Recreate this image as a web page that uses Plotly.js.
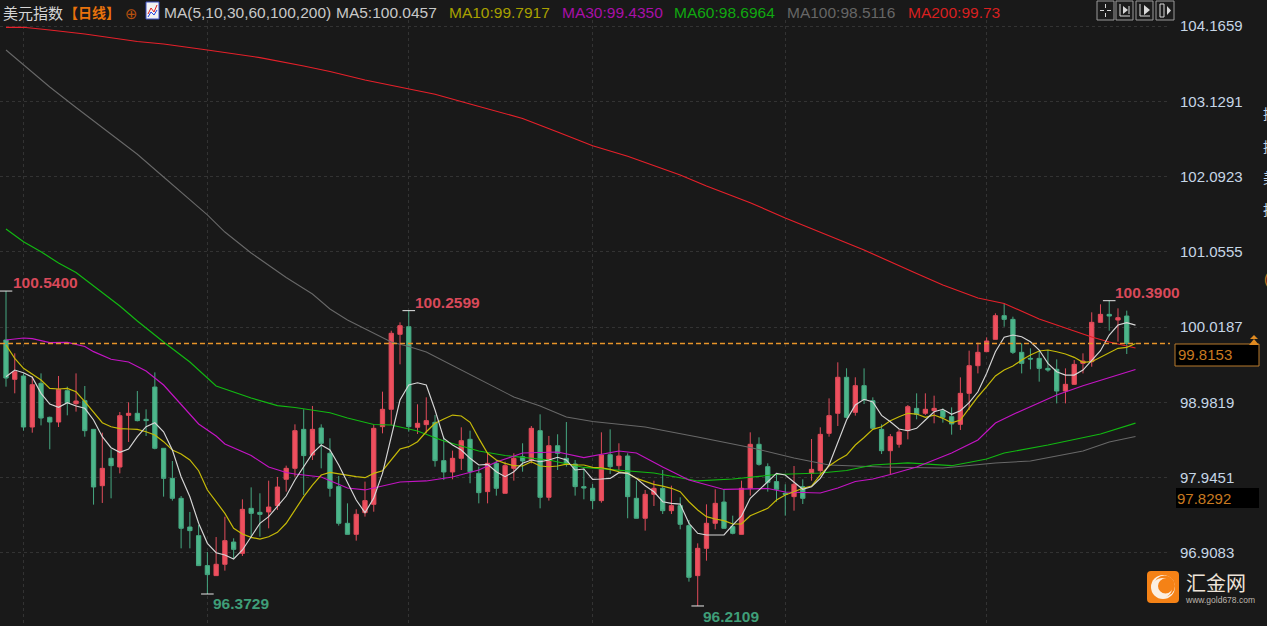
<!DOCTYPE html>
<html><head><meta charset="utf-8">
<script src="https://cdn.plot.ly/plotly-3.0.1.min.js"></script>
<style>html,body{margin:0;padding:0;background:#191919;overflow:hidden}#c{width:1267px;height:626px}</style>
</head><body><div id="c"></div>
<script>
const opens=[99.841,99.299,99.345,98.642,99.244,98.776,98.711,99.143,98.964,99.005,
98.610,97.834,98.211,98.091,98.803,98.831,98.748,99.193,98.349,97.935,
97.660,97.265,97.146,96.733,96.595,96.751,97.058,96.902,97.522,97.467,
97.472,97.559,97.922,98.073,98.610,98.257,98.629,98.280,97.821,97.316,
97.164,97.463,97.577,98.647,98.886,99.919,100.024,98.638,98.675,98.707,
98.179,98.023,98.211,98.473,98.004,97.752,98.142,97.729,98.073,98.234,
98.188,98.592,97.674,98.385,98.211,98.133,97.821,97.798,97.628,98.261,
98.110,98.243,97.660,97.385,97.715,97.798,97.490,97.559,97.284,96.595,
96.971,97.316,97.609,97.270,97.164,97.798,98.404,98.096,97.890,97.729,
97.683,97.821,98.004,98.041,98.555,98.831,99.327,98.844,99.212,99.005,
98.610,98.316,98.404,98.592,98.899,98.831,98.867,98.867,98.785,98.679,
99.106,99.487,99.680,99.850,100.176,100.125,99.671,99.588,99.588,99.450,
99.437,99.138,99.230,99.519,99.542,100.084,100.194,100.116,100.171];
const highs=[100.515,99.657,99.381,99.336,99.381,98.785,99.345,99.198,99.381,99.207,
98.615,98.564,98.335,98.849,98.982,99.138,98.886,99.395,98.353,98.174,
97.692,97.472,97.293,96.921,97.127,97.407,97.109,97.646,97.811,97.729,
97.903,97.954,98.110,98.679,98.886,98.932,98.679,98.487,97.968,97.591,
97.509,97.890,98.670,99.129,99.969,100.084,100.245,98.955,99.051,98.808,
98.509,98.317,98.638,98.592,98.096,98.280,98.188,98.165,98.280,98.418,
98.656,98.817,98.519,98.542,98.711,98.188,98.073,97.857,98.569,98.610,
98.418,98.280,97.903,97.775,97.903,98.050,97.834,97.674,97.362,97.040,
97.577,97.784,97.784,97.421,97.903,98.569,98.500,98.142,98.004,97.853,
98.105,97.922,98.477,98.638,99.037,99.533,99.451,99.327,99.450,99.051,
98.679,98.546,98.610,98.945,99.106,99.106,99.074,98.899,98.913,99.326,
99.694,99.804,99.877,100.208,100.346,100.162,99.795,99.726,99.694,99.703,
99.574,99.450,99.565,99.657,100.222,100.332,100.382,100.277,100.245];
const lows=[99.198,99.106,98.592,98.564,98.665,98.335,98.642,98.803,98.854,98.509,
97.573,97.596,97.660,98.004,98.436,98.720,98.518,98.335,97.683,97.628,
96.971,96.971,96.733,96.342,96.595,96.664,96.834,96.866,97.109,97.132,
97.247,97.499,97.752,97.958,97.706,98.188,98.073,97.683,97.284,97.164,
97.077,97.408,97.476,98.555,98.670,99.506,98.578,98.546,98.555,98.096,
97.913,97.922,98.050,97.867,97.591,97.591,97.697,97.729,97.903,98.027,
98.142,97.522,97.628,98.050,98.096,97.697,97.646,97.509,97.600,97.995,
98.050,97.385,97.385,97.215,97.554,97.444,97.444,97.233,96.512,96.177,
96.801,97.233,97.247,97.164,97.164,97.697,98.110,97.752,97.614,97.421,
97.490,97.582,97.903,97.995,98.509,98.656,98.762,98.799,98.959,98.624,
98.270,97.990,98.358,98.472,98.748,98.808,98.693,98.702,98.537,98.601,
98.876,99.381,99.680,99.850,100.024,99.648,99.381,99.437,99.267,99.404,
98.968,98.968,99.221,99.381,99.473,100.084,99.969,99.818,99.648];
const closes=[99.317,99.404,98.642,99.225,98.766,98.711,99.161,98.977,99.000,98.592,
97.816,98.073,98.110,98.798,98.831,98.730,98.730,98.349,97.935,97.660,
97.247,97.215,96.733,96.609,96.751,97.077,96.957,97.508,97.453,97.439,
97.540,97.816,98.073,98.592,98.248,98.610,98.418,97.798,97.316,97.164,
97.440,97.628,98.624,98.886,99.933,100.038,98.647,98.693,98.730,98.179,
98.023,98.211,98.454,98.027,97.738,98.142,97.798,98.110,98.211,98.174,
98.624,97.674,98.385,98.280,98.133,97.821,97.802,97.628,98.257,98.096,
98.243,97.683,97.385,97.715,97.798,97.490,97.559,97.302,96.572,96.971,
97.316,97.591,97.247,97.178,97.798,98.404,98.128,97.880,97.784,97.715,
97.853,97.660,98.059,98.541,98.799,99.327,98.776,99.212,99.014,98.624,
98.316,98.509,98.573,98.922,98.817,98.886,98.899,98.776,98.684,99.106,
99.487,99.671,99.827,100.176,100.125,99.671,99.519,99.579,99.450,99.427,
99.138,99.230,99.505,99.551,100.084,100.194,100.171,100.148,99.793];
const ma5=[99.335,99.427,99.390,99.327,99.106,98.959,98.913,98.977,98.931,98.900,
98.739,98.509,98.357,98.294,98.339,98.509,98.646,98.701,98.577,98.325,
97.958,97.682,97.316,97.040,96.911,96.879,96.824,96.948,97.131,97.316,
97.407,97.544,97.692,97.912,98.095,98.280,98.394,98.325,98.119,97.867,
97.637,97.462,97.664,98.004,98.509,99.014,99.221,99.252,99.221,98.876,
98.486,98.394,98.325,98.211,98.119,98.128,98.026,97.958,98.026,98.142,
98.188,98.164,98.188,98.225,98.188,98.050,98.064,97.922,97.926,97.935,
98.013,98.004,97.935,97.834,97.751,97.613,97.591,97.581,97.316,97.178,
97.155,97.155,97.155,97.292,97.416,97.660,97.774,97.889,98.004,97.981,
97.880,97.784,97.820,97.935,98.119,98.418,98.739,98.945,99.024,98.986,
98.802,98.715,98.615,98.591,98.624,98.739,98.853,98.886,98.817,98.867,
98.977,99.128,99.382,99.679,99.878,99.909,99.886,99.817,99.703,99.519,
99.404,99.358,99.358,99.427,99.565,99.693,99.909,100.047,100.079,100.0457];
const ma10=[99.772,99.588,99.451,99.368,99.289,99.175,99.166,99.175,99.128,98.991,
98.853,98.701,98.646,98.619,98.615,98.610,98.577,98.532,98.440,98.325,
98.270,98.188,98.040,97.774,97.613,97.453,97.247,97.168,97.123,97.099,
97.131,97.192,97.316,97.499,97.682,97.843,97.981,98.018,97.995,97.971,
97.958,97.944,98.004,98.040,98.188,98.339,98.371,98.440,98.577,98.693,
98.752,98.807,98.794,98.707,98.486,98.280,98.188,98.142,98.109,98.105,
98.164,98.105,98.095,98.105,98.132,98.119,98.119,98.087,98.081,98.059,
98.026,98.004,97.935,97.889,97.853,97.829,97.798,97.751,97.613,97.499,
97.407,97.375,97.352,97.306,97.306,97.420,97.467,97.522,97.637,97.705,
97.751,97.798,97.829,97.981,98.105,98.188,98.256,98.394,98.497,98.610,
98.646,98.729,98.784,98.831,98.821,98.776,98.807,98.762,98.701,98.739,
98.900,99.059,99.197,99.345,99.427,99.482,99.565,99.634,99.689,99.703,
99.679,99.648,99.602,99.533,99.542,99.602,99.665,99.726,99.740,99.7917];
const ma30Days=[0,2,3,5,7,9,10,12,14,16,18,20,22,24,25,28,30,32,33,36,39,41,45,48,51,54,56,59,63,66,69,70,72,75,78,80,82,87,89,93,95,97,99,101,104,108,111,113,115,120,123,129];
const ma30=[99.841,99.868,99.859,99.804,99.809,99.751,99.680,99.575,99.538,99.414,99.221,98.945,98.684,98.518,98.408,98.250,98.091,98.016,97.995,97.954,97.802,97.775,97.885,97.899,97.954,98.050,98.160,98.284,98.298,98.222,98.284,98.312,98.284,98.091,97.912,97.850,97.782,97.795,97.747,97.733,97.802,97.892,97.926,97.988,98.091,98.284,98.463,98.697,98.815,99.083,99.211,99.4350];
const ma60Days=[0,2,4,6,8,11,13,15,18,21,24,28,31,33,37,39,42,44,47,50,54,57,62,66,70,74,79,83,88,93,96,99,103,108,112,114,119,125,129];
const ma60=[101.370,101.195,101.057,100.901,100.771,100.488,100.309,100.103,99.813,99.538,99.207,99.042,98.936,98.911,98.839,98.766,98.677,98.670,98.587,98.450,98.312,98.250,98.188,98.085,98.050,98.009,97.899,97.926,97.988,98.009,98.043,98.119,98.147,98.109,98.202,98.284,98.394,98.546,98.6964];
const ma100Days=[0,2,5,8,12,15,18,23,25,28,32,35,37,39,44,46,48,52,55,58,61,64,67,73,79,85,90,94,100,107,113,117,123,126,129];
const ma100=[103.835,103.629,103.326,103.043,102.678,102.399,102.086,101.563,101.328,101.039,100.702,100.474,100.268,100.116,99.813,99.751,99.676,99.428,99.253,99.056,98.932,98.780,98.718,98.642,98.505,98.360,98.215,98.119,98.091,98.078,98.147,98.174,98.312,98.436,98.5116];
const ma200Days=[0,2,5,9,15,18,23,29,34,37,41,46,49,53,59,63,67,71,74,77,80,85,89,93,98,104,107,111,114,118,121,124,126,129];
const ma200=[104.148,104.148,104.111,104.056,103.952,103.918,103.835,103.731,103.615,103.539,103.422,103.305,103.225,103.091,102.892,102.706,102.517,102.371,102.237,102.113,101.962,101.732,101.521,101.328,101.080,100.757,100.598,100.419,100.344,100.130,100.006,99.882,99.813,99.73];
const priceTicks=[104.1659,103.1291,102.0923,101.0555,100.0187,98.9819,97.9451,96.9083];
const priceTickText=['104.1659','103.1291','102.0923','101.0555','100.0187','98.9819','97.9451','96.9083'];
const monthDays=[2,23,46,67,89,112];
const extremeDays=[0,23,46,79,126];
const extremeVals=[100.515,96.342,100.245,96.177,100.382];
const lastPrice=99.793;
const lastPriceText='99.8153';
const otherPrice='97.8292';
const days=opens.map((_,i)=>i);
const maDays=ma5.map((_,i)=>i);

const X=p=>p/1170, Y=p=>(626-p)/606;
const txt=(x,y,text,color,size,opt={})=>({xref:'paper',yref:'paper',x:X(x),y:Y(y),text,showarrow:false,xanchor:opt.anchor||'left',yanchor:'middle',align:'left',
  font:{family:opt.family||'"Liberation Sans",Arial,sans-serif',size,color},borderpad:0,captureevents:false});
const rect=(x0,y0,x1,y1,fill,line,lw=1,layer='above')=>({type:'rect',xref:'paper',yref:'paper',x0:X(x0),y0:Y(y0),x1:X(x1),y1:Y(y1),fillcolor:fill,line:{color:line||'rgba(0,0,0,0)',width:line?lw:0},layer});
const seg=(x0,y0,x1,y1,c,w=1)=>({type:'line',xref:'paper',yref:'paper',x0:X(x0),y0:Y(y0),x1:X(x1),y1:Y(y1),line:{color:c,width:w},layer:'above'});
const circ=(cx,cy,r,fill)=>({type:'circle',xref:'paper',yref:'paper',x0:X(cx-r),y0:Y(cy-r),x1:X(cx+r),y1:Y(cy+r),fillcolor:fill,line:{width:0},layer:'above'});
const poly=(pts,fill,line)=>({type:'path',xref:'paper',yref:'paper',path:'M'+pts.map(p=>X(p[0])+','+Y(p[1])).join('L')+(fill?'Z':''),fillcolor:fill||'rgba(0,0,0,0)',line:{color:line||'rgba(0,0,0,0)',width:line?1:0},layer:'above'});

const maLine=(x,y,color,name,w=1.1)=>({type:'scatter',mode:'lines',x,y,name,line:{color,width:w,shape:'linear'},hoverinfo:'skip'});
const traces=[
 {type:'candlestick',x:days,open:opens,high:highs,low:lows,close:closes,whiskerwidth:0,name:'美元指数',
  increasing:{line:{color:'#E04B5A',width:1},fillcolor:'#EE4F5E'},
  decreasing:{line:{color:'#46A882',width:1},fillcolor:'#4CB68A'},hoverinfo:'skip'},
 maLine(ma200Days,ma200,'#E6202A','MA200',1.15),
 maLine(ma100Days,ma100,'#686868','MA100',1.05),
 maLine(ma60Days,ma60,'#12B812','MA60',1.2),
 maLine(ma30Days,ma30,'#C414C4','MA30',1.2),
 maLine(maDays,ma10,'#C6BA08','MA10',1.2),
 maLine(maDays,ma5,'#D6D6D6','MA5',1.15),
 {type:'scatter',mode:'markers',x:extremeDays,y:extremeVals,marker:{symbol:'line-ew',size:9,line:{color:'#E8E8E8',width:1}},hoverinfo:'skip'}
];

const shapes=[
 {type:'line',xref:'paper',yref:'y',x0:0,x1:1,y0:lastPrice,y1:lastPrice,line:{color:'#E8952A',width:1.4,dash:'5px,3px'},layer:'above'},
 rect(1175,344,1259,366,'#000000','#B87A2C',1),
 rect(1176,488,1259,508,'#000000',null),
 rect(1097,1,1114,20,'#1C1C1C','#9A9A9A'),rect(1116,1,1133,20,'#1C1C1C','#9A9A9A'),rect(1136,1,1153,20,'#1C1C1C','#9A9A9A'),rect(1156,1,1174,20,'#1C1C1C','#9A9A9A'),
 seg(1100,10.5,1104,10.5,'#D8D8D8'),seg(1107,10.5,1111,10.5,'#D8D8D8'),seg(1105.5,4,1105.5,8,'#D8D8D8'),seg(1105.5,13,1105.5,17,'#D8D8D8'),
 seg(1120,4,1120,16,'#D8D8D8'),seg(1120,16,1130,16,'#D8D8D8'),seg(1129,6,1129,14,'#D8D8D8'),poly([[1128,10],[1123,6],[1123,14]],'#D8D8D8'),
 seg(1140,4,1140,16,'#D8D8D8'),seg(1140,16,1150,16,'#D8D8D8'),poly([[1150,10],[1144,5],[1144,15]],'#D8D8D8'),
 rect(1160,4,1164,17,'#1C1C1C','#D8D8D8'),poly([[1171,10.5],[1167,6],[1167,15]],'#D8D8D8'),
 rect(146,2,159,19,'#F2F2F2','#3B4FC0',1),poly([[148,14],[151,8],[154,12],[157,5]],null,'#E02020'),poly([[148,17],[151,12],[154,15],[157,10]],null,'#2040E0'),
 poly([[1249,345],[1254,339],[1259,345]],'#E08A20'),poly([[1250,339],[1254,335],[1258,339]],'#E08A20'),
 {type:'path',xref:'paper',yref:'paper',path:`M${X(1151)},${Y(571)}L${X(1175)},${Y(571)}Q${X(1179)},${Y(571)} ${X(1179)},${Y(575)}L${X(1179)},${Y(599)}Q${X(1179)},${Y(603)} ${X(1175)},${Y(603)}L${X(1151)},${Y(603)}Q${X(1147)},${Y(603)} ${X(1147)},${Y(599)}L${X(1147)},${Y(575)}Q${X(1147)},${Y(571)} ${X(1151)},${Y(571)}Z`,fillcolor:'#F58216',line:{width:0},layer:'above'},
 circ(1163,587,12,'#FBEFE2'),circ(1164.5,586,10.5,'#F58216'),circ(1162,588,10,'#FBEFE2'),circ(1165.5,586,7.5,'#F58216')
];
const cjk='"Noto Sans CJK SC",sans-serif';
const annotations=[
 txt(2,12,'美元指数','#D6D6D6',15,{family:cjk}),
 txt(63,12,'<b>【日线】</b>','#E9730C',14,{family:cjk}),
 txt(124,14,'⊕','#B8500E',15,{family:'"DejaVu Sans"'}),
 txt(163,12,'MA(5,10,30,60,100,200)','#C8C8C8',15.5),
 txt(335,12,'MA5:100.0457','#C8C8C8',15.5),
 txt(448,12,'MA10:99.7917','#A8A000',15.5),
 txt(561,12,'MA30:99.4350','#A810A8',15.5),
 txt(673,12,'MA60:98.6964','#10A810',15.5),
 txt(786,12,'MA100:98.5116','#666666',15.5),
 txt(907,12,'MA200:99.73','#D82020',15.5),
 txt(12,282,'<b>100.5400</b>','#D9495A',15.5),
 txt(414,302,'<b>100.2599</b>','#D9495A',15.5),
 txt(1114,292,'<b>100.3900</b>','#D9495A',15.5),
 txt(212,603,'<b>96.3729</b>','#3F9E78',15.5),
 txt(702,616,'<b>96.2109</b>','#3F9E78',15.5),
 txt(1177,354.5,lastPriceText,'#C87A20',15),
 txt(1176,498,otherPrice,'#C87A20',15),
 txt(1185,582.5,'汇金网','#EDE3D8',20,{family:cjk}),
 txt(1184,600,'www.gold678.com','#BDB5AC',8.5),
 txt(1262,113,'提','#C8D8E8',14,{family:cjk}),
 txt(1262,146,'提','#C8D8E8',14,{family:cjk}),
 txt(1262,177,'美','#C8D8E8',14,{family:cjk}),
 txt(1262,209,'指','#C8D8E8',14,{family:cjk}),
 txt(1263,279,'(','#C87A20',14)
];
const layout={
 width:1267,height:626,paper_bgcolor:'#191919',plot_bgcolor:'#191919',showlegend:false,dragmode:false,hovermode:false,
 margin:{l:0,r:97,t:20,b:0,pad:0},
 xaxis:{type:'linear',range:[-0.685,132.94],rangeslider:{visible:false},tickmode:'array',tickvals:monthDays,showticklabels:false,ticks:'',
   showgrid:true,gridcolor:'#333333',griddash:'dot',gridwidth:1,zeroline:false,showline:false,fixedrange:true},
 yaxis:{side:'right',range:[95.9013,104.2485],tickmode:'array',tickvals:priceTicks,ticktext:priceTickText,ticks:'outside',ticklen:6,tickcolor:'rgba(0,0,0,0)',
   tickfont:{family:'"Liberation Sans",Arial,sans-serif',size:15,color:'#C6D6E6'},showgrid:true,gridcolor:'#333333',griddash:'dot',gridwidth:1,zeroline:false,showline:false,fixedrange:true},
 shapes,annotations
};
Plotly.newPlot('c',traces,layout,{staticPlot:true,displayModeBar:false});
</script></body></html>
